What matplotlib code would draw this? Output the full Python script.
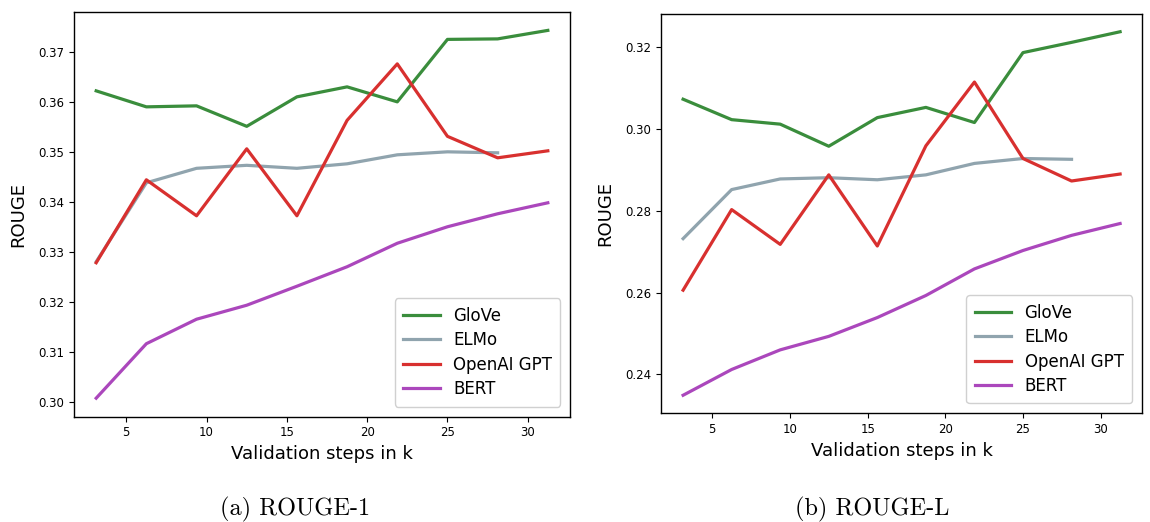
import matplotlib
matplotlib.use("Agg")
import matplotlib.pyplot as plt

steps = [3.125, 6.25, 9.375, 12.5, 15.625, 18.75, 21.875, 25.0, 28.125, 31.25]
steps_elmo = steps[:9]

r1_glove = [0.3622, 0.3590, 0.3592, 0.3551, 0.3610, 0.3630, 0.3600, 0.3725, 0.3726, 0.3743]
r1_elmo = [0.3280, 0.3438, 0.3467, 0.3473, 0.3467, 0.3476, 0.3494, 0.3500, 0.3498]
r1_gpt = [0.3278, 0.3444, 0.3372, 0.3506, 0.3372, 0.3563, 0.3676, 0.3531, 0.3488, 0.3502]
r1_bert = [0.3007, 0.3116, 0.3165, 0.3193, 0.3231, 0.3270, 0.3317, 0.3350, 0.3376, 0.3398]

rl_glove = [0.3073, 0.3023, 0.3012, 0.2958, 0.3028, 0.3053, 0.3016, 0.3187, 0.3212, 0.3238]
rl_elmo = [0.2732, 0.2852, 0.2878, 0.2881, 0.2876, 0.2888, 0.2916, 0.2928, 0.2926]
rl_gpt = [0.2606, 0.2803, 0.2718, 0.2888, 0.2714, 0.2959, 0.3115, 0.2928, 0.2873, 0.2890]
rl_bert = [0.2349, 0.2412, 0.2460, 0.2493, 0.2539, 0.2593, 0.2658, 0.2703, 0.2740, 0.2769]

labels = ["GloVe", "ELMo", "OpenAI GPT", "BERT"]
colors = ["#3a8d3c", "#90a4ae", "#d8302f", "#ab47bc"]
captions = ["(a) ROUGE-1", "(b) ROUGE-L"]

fig = plt.figure(figsize=(11.5, 5.22), dpi=100)
ax1 = fig.add_axes([0.064, 0.202, 0.432, 0.775])
ax2 = fig.add_axes([0.575, 0.208, 0.418, 0.766])

datasets = [
    (ax1, [r1_glove, r1_elmo, r1_gpt, r1_bert]),
    (ax2, [rl_glove, rl_elmo, rl_gpt, rl_bert]),
]

for ax, series in datasets:
    for lab, ys, c in zip(labels, series, colors):
        xs = steps_elmo if lab == "ELMo" else steps
        ax.plot(xs, ys, color=c, lw=2.3, label=lab)
    ax.set_xticks([5, 10, 15, 20, 25, 30])
    ax.tick_params(labelsize=8.5, length=3.5)
    ax.yaxis.set_major_formatter(matplotlib.ticker.FormatStrFormatter("%.2f"))
    ax.set_xlabel("Validation steps in k", fontsize=13)
    ax.set_ylabel("ROUGE", fontsize=13, labelpad=8)
    leg = ax.legend(loc="lower right", fontsize=12, handlelength=2.2,
                    borderpad=0.5, labelspacing=0.39, borderaxespad=0.6,
                    framealpha=1)
    leg.get_frame().set_edgecolor("#d0d0d0")
    for sp in ax.spines.values():
        sp.set_linewidth(1.0)

ax1.yaxis.set_major_locator(matplotlib.ticker.MultipleLocator(0.01))
ax2.yaxis.set_major_locator(matplotlib.ticker.MultipleLocator(0.02))

fig.text(0.257, 0.012, captions[0], fontsize=17.5, family="cmr10", ha="center")
fig.text(0.758, 0.012, captions[1], fontsize=17.5, family="cmr10", ha="center")

fig.savefig("out.png", dpi=100)
